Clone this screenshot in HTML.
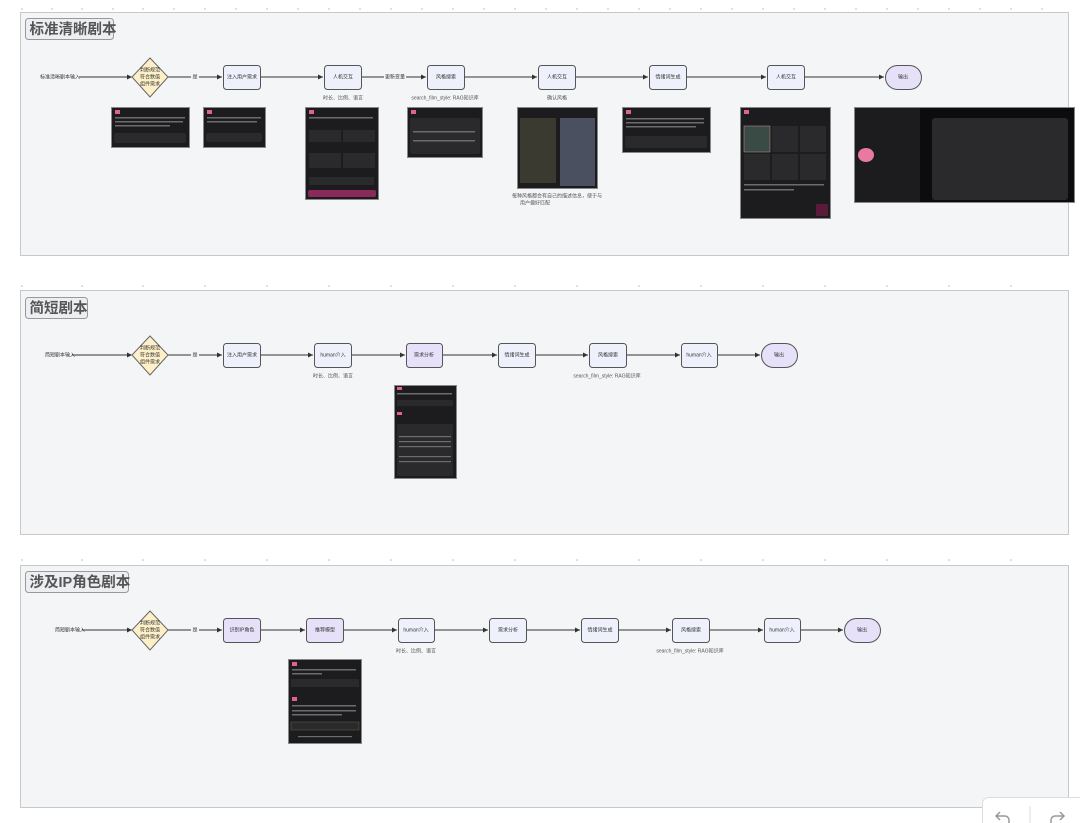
<!DOCTYPE html>
<html><head><meta charset="utf-8"><style>
html,body{margin:0;padding:0;background:#fff;width:1080px;height:823px;overflow:hidden}
svg{display:block;font-family:"Liberation Sans","Noto Sans CJK SC",sans-serif}
.n{fill:#eef1fb;stroke:#555;stroke-width:1}
.p{fill:#e6e0f8;stroke:#555;stroke-width:1}
.t{font-size:5px;fill:#333;text-anchor:middle;dominant-baseline:middle}
.l{font-size:5px;fill:#555;text-anchor:middle;dominant-baseline:middle}
.e{stroke:#333;stroke-width:1;fill:none;marker-end:url(#a)}
.sec{fill:#f4f5f7;stroke:#c8c8c8;stroke-width:1}
.tt{font-size:14.5px;font-weight:bold;fill:#555}
.tb{fill:#eceef1;stroke:#999;stroke-width:1}
.d{fill:#fdf0c8;stroke:#666;stroke-width:1}
.sc{fill:#1c1c1e;stroke:#888;stroke-width:1}
.in{fill:#2a2a2d}
.tx{fill:#6b6b70}
.pk{fill:#e2628f}
</style></head><body>
<svg width="1080" height="823" viewBox="0 0 1080 823" xmlns="http://www.w3.org/2000/svg">
<defs><marker id="a" markerWidth="6" markerHeight="6" refX="5" refY="3" orient="auto"><path d="M0,0.5 L5,3 L0,5.5 z" fill="#333"/></marker></defs>
<g fill="#bbb">
<circle cx="22" cy="9" r="0.8"/><circle cx="52" cy="9" r="0.8"/><circle cx="82" cy="9" r="0.8"/><circle cx="113" cy="9" r="0.8"/><circle cx="143" cy="9" r="0.8"/><circle cx="174" cy="9" r="0.8"/><circle cx="205" cy="9" r="0.8"/><circle cx="236" cy="9" r="0.8"/><circle cx="267" cy="9" r="0.8"/><circle cx="298" cy="9" r="0.8"/><circle cx="329" cy="9" r="0.8"/><circle cx="360" cy="9" r="0.8"/><circle cx="391" cy="9" r="0.8"/><circle cx="422" cy="9" r="0.8"/><circle cx="453" cy="9" r="0.8"/><circle cx="484" cy="9" r="0.8"/><circle cx="515" cy="9" r="0.8"/><circle cx="546" cy="9" r="0.8"/><circle cx="577" cy="9" r="0.8"/><circle cx="608" cy="9" r="0.8"/><circle cx="639" cy="9" r="0.8"/><circle cx="670" cy="9" r="0.8"/><circle cx="701" cy="9" r="0.8"/><circle cx="732" cy="9" r="0.8"/><circle cx="763" cy="9" r="0.8"/><circle cx="794" cy="9" r="0.8"/><circle cx="825" cy="9" r="0.8"/><circle cx="856" cy="9" r="0.8"/><circle cx="887" cy="9" r="0.8"/><circle cx="918" cy="9" r="0.8"/><circle cx="949" cy="9" r="0.8"/><circle cx="980" cy="9" r="0.8"/><circle cx="1011" cy="9" r="0.8"/><circle cx="1042" cy="9" r="0.8"/>
<circle cx="22" cy="286" r="0.8"/><circle cx="82" cy="286" r="0.8"/><circle cx="143" cy="286" r="0.8"/><circle cx="205" cy="286" r="0.8"/><circle cx="267" cy="286" r="0.8"/><circle cx="329" cy="286" r="0.8"/><circle cx="391" cy="286" r="0.8"/><circle cx="453" cy="286" r="0.8"/><circle cx="515" cy="286" r="0.8"/><circle cx="577" cy="286" r="0.8"/><circle cx="639" cy="286" r="0.8"/><circle cx="701" cy="286" r="0.8"/><circle cx="763" cy="286" r="0.8"/><circle cx="825" cy="286" r="0.8"/><circle cx="887" cy="286" r="0.8"/><circle cx="949" cy="286" r="0.8"/><circle cx="1011" cy="286" r="0.8"/>
<circle cx="22" cy="560" r="0.8"/><circle cx="82" cy="560" r="0.8"/><circle cx="143" cy="560" r="0.8"/><circle cx="205" cy="560" r="0.8"/><circle cx="267" cy="560" r="0.8"/><circle cx="329" cy="560" r="0.8"/><circle cx="391" cy="560" r="0.8"/><circle cx="453" cy="560" r="0.8"/><circle cx="515" cy="560" r="0.8"/><circle cx="577" cy="560" r="0.8"/><circle cx="639" cy="560" r="0.8"/><circle cx="701" cy="560" r="0.8"/><circle cx="763" cy="560" r="0.8"/><circle cx="825" cy="560" r="0.8"/><circle cx="887" cy="560" r="0.8"/><circle cx="949" cy="560" r="0.8"/><circle cx="1011" cy="560" r="0.8"/>
</g>

<!-- Section 1 -->
<rect class="sec" x="20.5" y="12.5" width="1048" height="243"/>
<rect class="tb" x="25.5" y="18.5" width="88" height="21" rx="3"/>
<text class="tt" x="29.5" y="34">标准清晰剧本</text>
<text class="t" x="60" y="77">标准清晰剧本输入</text>
<line class="e" x1="79" y1="77" x2="132" y2="77"/>
<polygon class="d" points="150,58 168,77 150,97 132,77"/>
<text class="t" x="150" y="70">判断规范</text><text class="t" x="150" y="77">符合数值</text><text class="t" x="150" y="84">组件需求</text>
<line x1="168" y1="77" x2="191" y2="77" stroke="#333"/>
<text class="t" x="195" y="77">是</text>
<line class="e" x1="199" y1="77" x2="222" y2="77"/>
<rect class="n" x="223.5" y="65.5" width="37" height="24" rx="3"/><text class="t" x="242" y="77">注入用户需求</text>
<line class="e" x1="261" y1="77" x2="323" y2="77"/>
<rect class="n" x="324.5" y="65.5" width="37" height="24" rx="3"/><text class="t" x="343" y="77">人机交互</text>
<text class="l" x="343" y="98">时长、比例、语言</text>
<line x1="362" y1="77" x2="384" y2="77" stroke="#333"/>
<text class="t" x="395" y="77">更新变量</text>
<line class="e" x1="406" y1="77" x2="426" y2="77"/>
<rect class="n" x="427.5" y="65.5" width="37" height="24" rx="3"/><text class="t" x="446" y="77">风格搜索</text>
<text class="l" x="445" y="98">search_film_style: RAG知识库</text>
<line class="e" x1="465" y1="77" x2="537" y2="77"/>
<rect class="n" x="538.5" y="65.5" width="37" height="24" rx="3"/><text class="t" x="557" y="77">人机交互</text>
<text class="l" x="557" y="98">确认风格</text>
<line class="e" x1="576" y1="77" x2="648" y2="77"/>
<rect class="n" x="649.5" y="65.5" width="37" height="24" rx="3"/><text class="t" x="668" y="77">情绪词生成</text>
<line class="e" x1="687" y1="77" x2="766" y2="77"/>
<rect class="n" x="767.5" y="65.5" width="37" height="24" rx="3"/><text class="t" x="786" y="77">人机交互</text>
<line class="e" x1="805" y1="77" x2="884" y2="77"/>
<rect class="p" x="885.5" y="65.5" width="36" height="24" rx="12"/><text class="t" x="903" y="77">输出</text>

<!-- screenshots s1 -->
<rect class="sc" x="111.5" y="107.5" width="78" height="40"/>
<rect class="pk" x="115" y="110" width="5" height="4"/><rect class="tx" x="115" y="117" width="70" height="1.5"/><rect class="tx" x="115" y="121" width="68" height="1.5"/><rect class="tx" x="115" y="125" width="55" height="1.5"/><rect class="in" x="114" y="133" width="72" height="10" rx="2"/>
<rect class="sc" x="203.5" y="107.5" width="62" height="40"/>
<rect class="pk" x="207" y="110" width="5" height="4"/><rect class="tx" x="207" y="117" width="54" height="1.5"/><rect class="tx" x="207" y="121" width="50" height="1.5"/><rect class="in" x="206" y="133" width="56" height="9" rx="2"/>
<rect class="sc" x="305.5" y="107.5" width="73" height="92"/>
<rect class="pk" x="309" y="110" width="5" height="4"/><rect class="tx" x="309" y="117" width="64" height="1.5"/><rect class="in" x="309" y="130" width="32" height="12"/><rect class="in" x="343" y="130" width="32" height="12"/><rect class="in" x="309" y="153" width="32" height="15"/><rect class="in" x="343" y="153" width="32" height="15"/><rect class="in" x="309" y="177" width="65" height="8"/><rect x="308" y="190" width="68" height="7" rx="2" fill="#8a2a5a"/>
<rect class="sc" x="407.5" y="107.5" width="75" height="50"/>
<rect class="pk" x="411" y="110" width="5" height="4"/><rect class="in" x="410" y="118" width="70" height="36" rx="2"/><rect class="tx" x="413" y="131" width="62" height="1.5"/><rect class="tx" x="413" y="140" width="62" height="1.5"/>
<rect class="sc" x="517.5" y="107.5" width="80" height="81"/>
<rect x="520" y="118" width="36" height="65" fill="#3a3a30"/><rect x="560" y="118" width="35" height="68" fill="#4a5060"/>
<text class="l" x="557" y="196">每种风格都会有自己的描述信息，便于与</text>
<text class="l" x="535" y="203">用户偏好匹配</text>
<rect class="sc" x="622.5" y="107.5" width="88" height="45"/>
<rect class="pk" x="626" y="110" width="5" height="4"/><rect class="tx" x="626" y="118" width="78" height="1.5"/><rect class="tx" x="626" y="122" width="78" height="1.5"/><rect class="tx" x="626" y="126" width="70" height="1.5"/><rect class="in" x="625" y="136" width="82" height="12" rx="2"/>
<rect class="sc" x="740.5" y="107.5" width="90" height="111"/>
<rect class="pk" x="744" y="110" width="5" height="4"/><rect x="744" y="126" width="26" height="26" fill="#3a4a44" stroke="#a88" stroke-width="0.6"/><rect class="in" x="772" y="126" width="26" height="26"/><rect class="in" x="800" y="126" width="26" height="26"/><rect class="in" x="744" y="154" width="26" height="26"/><rect class="in" x="772" y="154" width="26" height="26"/><rect class="in" x="800" y="154" width="26" height="26"/><rect class="tx" x="744" y="184" width="80" height="1.5"/><rect class="tx" x="744" y="189" width="50" height="1.5"/><rect x="816" y="204" width="12" height="12" fill="#5a1a3a"/>
<rect class="sc" x="854.5" y="107.5" width="220" height="95"/>
<rect x="920" y="108" width="154" height="94" fill="#0c0c0e"/><rect class="in" x="932" y="118" width="136" height="82" rx="3"/><ellipse cx="866" cy="155" rx="8" ry="7" fill="#e87aa0"/>

<!-- Section 2 -->
<rect class="sec" x="20.5" y="290.5" width="1048" height="244"/>
<rect class="tb" x="25.5" y="297.5" width="62" height="21" rx="3"/>
<text class="tt" x="29.5" y="313">简短剧本</text>
<text class="t" x="60" y="355">简短剧本输入</text>
<line class="e" x1="72" y1="355" x2="132" y2="355"/>
<polygon class="d" points="150,336 168,355 150,375 132,355"/>
<text class="t" x="150" y="348">判断规范</text><text class="t" x="150" y="355">符合数值</text><text class="t" x="150" y="362">组件需求</text>
<line x1="168" y1="355" x2="191" y2="355" stroke="#333"/>
<text class="t" x="195" y="355">是</text>
<line class="e" x1="199" y1="355" x2="222" y2="355"/>
<rect class="n" x="223.5" y="343.5" width="37" height="24" rx="3"/><text class="t" x="242" y="355">注入用户需求</text>
<line class="e" x1="261" y1="355" x2="313" y2="355"/>
<rect class="n" x="314.5" y="343.5" width="37" height="24" rx="3"/><text class="t" x="333" y="355">human介入</text>
<text class="l" x="333" y="376">时长、比例、语言</text>
<line class="e" x1="352" y1="355" x2="405" y2="355"/>
<rect class="p" x="406.5" y="343.5" width="36" height="24" rx="3"/><text class="t" x="424" y="355">需求分析</text>
<line class="e" x1="443" y1="355" x2="497" y2="355"/>
<rect class="n" x="498.5" y="343.5" width="37" height="24" rx="3"/><text class="t" x="517" y="355">情绪词生成</text>
<line class="e" x1="536" y1="355" x2="588" y2="355"/>
<rect class="n" x="589.5" y="343.5" width="37" height="24" rx="3"/><text class="t" x="608" y="355">风格搜索</text>
<text class="l" x="607" y="376">search_film_style: RAG知识库</text>
<line class="e" x1="627" y1="355" x2="680" y2="355"/>
<rect class="n" x="681.5" y="343.5" width="36" height="24" rx="3"/><text class="t" x="699" y="355">human介入</text>
<line class="e" x1="718" y1="355" x2="760" y2="355"/>
<rect class="p" x="761.5" y="343.5" width="36" height="24" rx="12"/><text class="t" x="779" y="355">输出</text>
<rect class="sc" x="394.5" y="385.5" width="62" height="93"/>
<rect class="pk" x="397" y="387" width="5" height="3"/><rect class="tx" x="397" y="393" width="55" height="1.5"/><rect class="in" x="397" y="400" width="56" height="6"/><rect class="pk" x="397" y="412" width="5" height="3"/><rect class="in" x="397" y="424" width="56" height="52"/><rect class="tx" x="399" y="436" width="52" height="1.2"/><rect class="tx" x="399" y="441" width="52" height="1.2"/><rect class="tx" x="399" y="446" width="52" height="1.2"/><rect class="tx" x="399" y="456" width="52" height="1.2"/><rect class="tx" x="399" y="461" width="52" height="1.2"/>

<!-- Section 3 -->
<rect class="sec" x="20.5" y="565.5" width="1048" height="242"/>
<rect class="tb" x="25.5" y="571.5" width="103" height="21" rx="3"/>
<text class="tt" x="29.5" y="587">涉及IP角色剧本</text>
<text class="t" x="70" y="630">简短剧本输入</text>
<line class="e" x1="82" y1="630" x2="132" y2="630"/>
<polygon class="d" points="150,611 168,630 150,650 132,630"/>
<text class="t" x="150" y="623">判断规范</text><text class="t" x="150" y="630">符合数值</text><text class="t" x="150" y="637">组件需求</text>
<line x1="168" y1="630" x2="191" y2="630" stroke="#333"/>
<text class="t" x="195" y="630">是</text>
<line class="e" x1="199" y1="630" x2="222" y2="630"/>
<rect class="p" x="223.5" y="618.5" width="37" height="24" rx="3"/><text class="t" x="242" y="630">识别IP角色</text>
<line class="e" x1="261" y1="630" x2="305" y2="630"/>
<rect class="p" x="306.5" y="618.5" width="37" height="24" rx="3"/><text class="t" x="325" y="630">推荐模型</text>
<line class="e" x1="344" y1="630" x2="397" y2="630"/>
<rect class="n" x="398.5" y="618.5" width="36" height="24" rx="3"/><text class="t" x="416" y="630">human介入</text>
<text class="l" x="416" y="651">时长、比例、语言</text>
<line class="e" x1="435" y1="630" x2="488" y2="630"/>
<rect class="n" x="489.5" y="618.5" width="37" height="24" rx="3"/><text class="t" x="508" y="630">需求分析</text>
<line class="e" x1="527" y1="630" x2="580" y2="630"/>
<rect class="n" x="581.5" y="618.5" width="37" height="24" rx="3"/><text class="t" x="600" y="630">情绪词生成</text>
<line class="e" x1="619" y1="630" x2="671" y2="630"/>
<rect class="n" x="672.5" y="618.5" width="37" height="24" rx="3"/><text class="t" x="691" y="630">风格搜索</text>
<text class="l" x="690" y="651">search_film_style: RAG知识库</text>
<line class="e" x1="710" y1="630" x2="763" y2="630"/>
<rect class="n" x="764.5" y="618.5" width="36" height="24" rx="3"/><text class="t" x="782" y="630">human介入</text>
<line class="e" x1="801" y1="630" x2="843" y2="630"/>
<rect class="p" x="844.5" y="618.5" width="36" height="24" rx="12"/><text class="t" x="862" y="630">输出</text>
<rect class="sc" x="288.5" y="659.5" width="73" height="84"/>
<rect class="pk" x="292" y="662" width="5" height="4"/><rect class="tx" x="292" y="669" width="64" height="1.5"/><rect class="tx" x="292" y="673" width="30" height="1.5"/><rect class="in" x="291" y="679" width="68" height="8"/><rect class="pk" x="292" y="697" width="5" height="4"/><rect class="tx" x="292" y="705" width="64" height="1.5"/><rect class="tx" x="292" y="710" width="64" height="1.5"/><rect class="tx" x="292" y="714" width="50" height="1.5"/><rect class="in" x="291" y="722" width="68" height="8" stroke="#664" stroke-width="0.5"/><rect class="tx" x="298" y="736" width="54" height="1.2"/>

<!-- undo/redo -->
<rect x="982.5" y="797.5" width="110" height="40" rx="6" fill="#fff" stroke="#ddd"/>
<line x1="1030" y1="806" x2="1030" y2="823" stroke="#ddd"/>
<path d="M1000 812 l-4 4 l4 4 M996 816 h9 a4 4 0 0 1 4 4 v3" stroke="#999" stroke-width="1.5" fill="none"/>
<path d="M1060 812 l4 4 l-4 4 M1064 816 h-9 a4 4 0 0 0 -4 4 v3" stroke="#999" stroke-width="1.5" fill="none"/>
</svg>
</body></html>
